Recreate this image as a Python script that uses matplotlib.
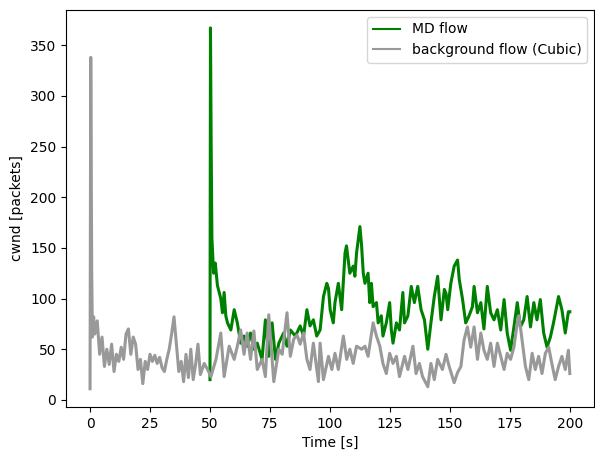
import matplotlib
matplotlib.use('Agg')
import matplotlib.pyplot as plt

# MD flow cwnd
md_t = [50.0, 50.2, 50.5, 50.8, 51.2, 51.5, 52.2, 53.1, 54.5, 55.2, 55.9, 56.6, 57.3, 58.7,
        60.1, 61.4, 62.8, 64.2, 65.5, 66.9, 68.3, 69.7, 71.7, 73.1, 74.5, 75.9, 77.3,
        78.7, 80.7, 82.1, 83.5, 85.6, 87.6, 89.0, 90.4, 91.7, 93.1, 94.5, 95.9, 97.3,
        98.7, 99.4, 100.1, 101.4, 102.1, 103.5, 104.9, 106.3, 106.9, 108.3, 109.7, 110.4,
        111.1, 112.5, 113.2, 113.9, 114.6, 115.9, 116.6, 117.3, 118.0, 119.4, 120.1,
        121.4, 122.1, 123.5, 124.9, 125.6, 126.3, 127.7, 129.0, 130.4, 131.1, 132.5,
        133.9, 135.2, 136.6, 138.0, 139.4, 140.8, 142.1, 143.5, 144.9, 146.3, 147.7,
        148.4, 149.1, 150.4, 151.8, 153.2, 153.9, 155.3, 156.6, 158.0, 159.4, 160.1,
        161.5, 162.9, 164.2, 165.6, 167.0, 168.4, 169.8, 171.2, 172.6, 173.9, 175.3,
        176.7, 178.1, 179.4, 180.8, 182.2, 183.6, 185.0, 186.3, 187.7, 189.1, 190.5,
        191.9, 193.2, 195.3, 196.7, 198.1, 199.4, 200.0]
md_cwnd = [20, 367, 250, 160, 140, 125, 135, 113, 100, 86, 106, 83, 76, 69,
           89, 76, 56, 63, 53, 66, 50, 56, 40, 79, 43, 76, 40,
           56, 66, 53, 69, 63, 73, 63, 89, 73, 79, 63, 69, 102,
           115, 110, 89, 76, 96, 115, 89, 145, 152, 125, 132, 122,
           145, 171, 152, 125, 115, 125, 96, 115, 92, 96, 76,
           83, 63, 76, 96, 69, 56, 76, 69, 106, 76, 83,
           112, 96, 112, 89, 79, 50, 76, 102, 122, 79, 109,
           105, 89, 115, 132, 138, 119, 99, 76, 83, 92, 112,
           86, 96, 70, 112, 86, 79, 89, 69, 99, 66, 49,
           72, 96, 72, 79, 102, 72, 96, 79, 99, 66, 52,
           62, 76, 102, 89, 66, 87, 87]

# background flow (Cubic) cwnd
bg_t = [0.0, 0.3, 0.7, 1, 1.5, 2, 3, 4, 5, 6, 7, 8, 9, 10, 11, 12, 13, 14, 15, 16, 17, 18,
        19, 20, 21, 22, 23, 24, 25, 26, 27, 28, 29, 30, 31, 32, 33, 34, 35, 36, 37, 38,
        39, 40, 41, 42, 43, 44, 45, 46, 47.6, 49, 50.4, 52.5, 54.5, 55.9, 58.0, 60.1,
        61.4, 62.8, 64.2, 65.5, 66.9, 68.3, 69.7, 71.7, 73.1, 74.5, 76.6, 78.7, 80.1,
        82.1, 83.5, 84.9, 86.3, 87.6, 89.0, 90.4, 91.7, 93.1, 95.2, 95.9, 97.3, 99.4,
        100.8, 102.1, 103.5, 105.6, 107.0, 108.3, 109.7, 111.1, 113.2, 114.6, 115.9,
        118.0, 119.4, 120.8, 122.1, 123.5, 124.9, 126.3, 127.7, 129.0, 131.1, 132.5,
        134.6, 135.9, 137.3, 138.6, 140.8, 142.1, 143.5, 144.9, 146.9, 148.4, 149.7,
        151.8, 153.2, 154.6, 155.9, 157.3, 158.7, 160.1, 161.5, 162.9, 164.2, 165.6,
        167.0, 168.4, 169.8, 171.2, 172.6, 173.9, 175.3, 176.7, 178.1, 178.8, 180.1,
        181.5, 182.9, 184.3, 185.6, 187.0, 188.4, 189.8, 191.2, 192.5, 193.9, 195.3,
        196.7, 198.1, 199.4, 200.0]
bg_cwnd = [11, 338, 125, 62, 82, 65, 78, 45, 62, 33, 50, 35, 55, 28, 45, 38, 52, 40, 65, 70,
           45, 62, 55, 30, 40, 16, 38, 30, 45, 38, 44, 36, 42, 32, 28, 40, 50, 65, 82,
           55, 28, 38, 18, 45, 22, 50, 20, 35, 55, 25, 36, 30, 23, 40, 66, 23, 53, 40,
           53, 69, 45, 66, 40, 68, 30, 40, 23, 84, 18, 50, 45,
           86, 43, 60, 64, 55, 66, 40, 30, 56, 18, 56, 20, 43,
           30, 46, 30, 63, 40, 50, 36, 53, 50, 53, 43,
           76, 63, 53, 36, 26, 46, 36, 43, 23, 43, 30,
           53, 26, 36, 23, 13, 36, 20, 40, 30, 45, 33,
           17, 27, 33, 59, 72, 52, 72, 40, 66, 49, 40,
           56, 33, 56, 43, 30, 46, 40, 52, 76, 83, 59,
           33, 20, 46, 30, 43, 26, 46, 52, 36, 20, 33,
           43, 30, 49, 26]

fig, ax = plt.subplots(figsize=(5.95, 4.5), dpi=100)
ax.plot(md_t, md_cwnd, color='green', linewidth=2.2, label='MD flow')
ax.plot(bg_t, bg_cwnd, color='#999999', linewidth=2.2, label='background flow (Cubic)')
ax.set_xlabel('Time [s]')
ax.set_ylabel('cwnd [packets]')
leg = ax.legend(loc='upper right')
for h in leg.get_lines():
    h.set_linewidth(1.5)
plt.subplots_adjust(left=0.111, right=0.998, top=0.978, bottom=0.096)
plt.savefig('out.png')
